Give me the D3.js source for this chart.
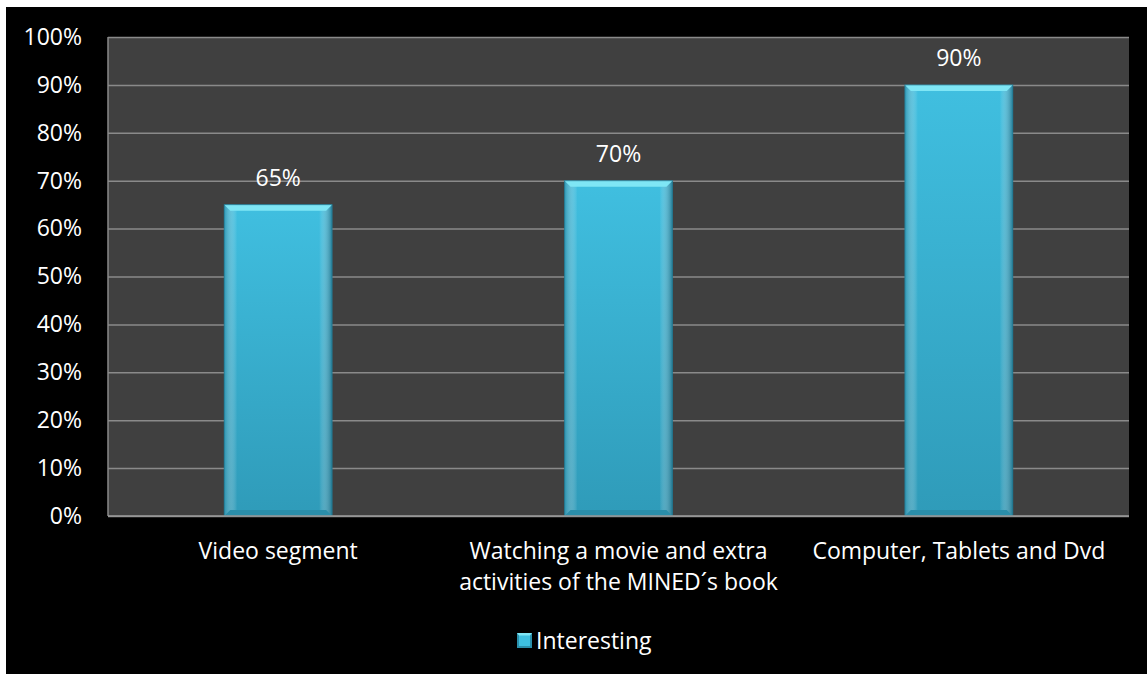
<!DOCTYPE html>
<html>
<head>
<meta charset="utf-8">
<script src="https://cdn.jsdelivr.net/npm/d3@7"></script>
<style>
  html, body { margin: 0; padding: 0; background: #ffffff; }
  svg { display: block; }
  text { font-family: "Open Sans", "Noto Sans", sans-serif; }
</style>
</head>
<body>
<svg id="chart" width="1147" height="674"></svg>
<script>
// Data
const categories = [
  ["Video segment"],
  ["Watching a movie and extra", "activities of the MINED´s book"],
  ["Computer, Tablets and Dvd"]
];
const values = [0.65, 0.70, 0.90];
const seriesName = "Interesting";
const yTicks = [0, 0.1, 0.2, 0.3, 0.4, 0.5, 0.6, 0.7, 0.8, 0.9, 1.0];

const svg = d3.select("#chart");
const W = 1147, H = 674;
const FS = 23;

// Black chart frame
svg.append("rect").attr("x", 6).attr("y", 7).attr("width", W - 6).attr("height", H - 7).attr("fill", "#000");

const plot = { left: 108, top: 37, right: 1129, bottom: 516 };

const x = d3.scaleBand()
  .domain(d3.range(categories.length))
  .range([plot.left, plot.right])
  .paddingInner(0.683)
  .paddingOuter(0.3415);

const y = d3.scaleLinear().domain([0, 1]).range([plot.bottom, plot.top]);

// Plot background
svg.append("rect")
  .attr("x", plot.left).attr("y", plot.top)
  .attr("width", plot.right - plot.left).attr("height", plot.bottom - plot.top)
  .attr("fill", "#404040");

// Gridlines
const grid = svg.append("g")
  .attr("transform", `translate(${plot.left},0)`)
  .call(d3.axisLeft(y).tickValues(yTicks).tickSize(-(plot.right - plot.left)).tickFormat(""));
grid.select(".domain").remove();
grid.selectAll(".tick line").attr("stroke", "#8a8a8a").attr("stroke-width", 1.5);

// Left edge of plot
svg.append("line")
  .attr("x1", plot.left).attr("x2", plot.left)
  .attr("y1", plot.top).attr("y2", plot.bottom)
  .attr("stroke", "#8a8a8a").attr("stroke-width", 1.5);

// Y axis labels
const yAxis = svg.append("g")
  .attr("transform", `translate(${plot.left},0)`)
  .call(d3.axisLeft(y).tickValues(yTicks).tickSize(0).tickPadding(26).tickFormat(d3.format(".0%")));
yAxis.select(".domain").remove();
yAxis.selectAll("text")
  .attr("fill", "#ffffff")
  .attr("font-size", FS)
  .attr("font-family", "'Open Sans', sans-serif");

// Gradients for the bevelled bars
const defs = svg.append("defs");
const face = defs.append("linearGradient").attr("id", "barFace")
  .attr("x1", 0).attr("y1", 0).attr("x2", 0).attr("y2", 1);
face.append("stop").attr("offset", "0%").attr("stop-color", "#40bfe0");
face.append("stop").attr("offset", "100%").attr("stop-color", "#2f9bb9");

const side = defs.append("linearGradient").attr("id", "barSide")
  .attr("x1", 0).attr("y1", 0).attr("x2", 1).attr("y2", 0);
side.append("stop").attr("offset", "0%").attr("stop-color", "#2a8fab");
side.append("stop").attr("offset", "12%").attr("stop-color", "#ffffff").attr("stop-opacity", 0);
side.append("stop").attr("offset", "88%").attr("stop-color", "#ffffff").attr("stop-opacity", 0);
side.append("stop").attr("offset", "100%").attr("stop-color", "#1d6f88");

const bars = svg.append("g").selectAll("g.bar")
  .data(values)
  .join("g").attr("class", "bar");

const bev = 6;
bars.append("rect")
  .attr("x", (d, i) => x(i)).attr("y", d => y(d))
  .attr("width", x.bandwidth()).attr("height", d => y(0) - y(d))
  .attr("fill", "url(#barFace)");
bars.append("rect")
  .attr("x", (d, i) => x(i)).attr("y", d => y(d))
  .attr("width", x.bandwidth()).attr("height", d => y(0) - y(d))
  .attr("fill", "url(#barSide)").attr("opacity", 0.8);
// Top bevel
bars.append("path")
  .attr("d", (d, i) => {
    const x0 = x(i), x1 = x(i) + x.bandwidth(), t = y(d);
    return `M${x0},${t} L${x1},${t} L${x1 - bev},${t + bev} L${x0 + bev},${t + bev} Z`;
  })
  .attr("fill", "#7fe6f5");
// Bottom bevel
bars.append("path")
  .attr("d", (d, i) => {
    const x0 = x(i), x1 = x(i) + x.bandwidth(), b = y(0);
    return `M${x0},${b} L${x1},${b} L${x1 - bev},${b - bev} L${x0 + bev},${b - bev} Z`;
  })
  .attr("fill", "#2a8eaa");
bars.append("rect")
  .attr("x", (d, i) => x(i)).attr("y", d => y(d))
  .attr("width", x.bandwidth()).attr("height", d => y(0) - y(d))
  .attr("fill", "none").attr("stroke", "#1f7690").attr("stroke-width", 1).attr("opacity", 0.7);

// Value labels
svg.append("g").selectAll("text")
  .data(values)
  .join("text")
  .attr("x", (d, i) => x(i) + x.bandwidth() / 2)
  .attr("y", d => y(d) - 18.5)
  .attr("text-anchor", "middle")
  .attr("fill", "#ffffff")
  .attr("font-size", FS)
  .text(d => d3.format(".0%")(d));

// Bottom axis line
svg.append("line")
  .attr("x1", plot.left).attr("x2", plot.right)
  .attr("y1", plot.bottom).attr("y2", plot.bottom)
  .attr("stroke", "#9a9a9a").attr("stroke-width", 1.5);

// Category labels
const catG = svg.append("g").selectAll("text")
  .data(categories)
  .join("text")
  .attr("x", (d, i) => x(i) + x.bandwidth() / 2)
  .attr("y", 559)
  .attr("text-anchor", "middle")
  .attr("fill", "#ffffff")
  .attr("font-size", FS);
catG.selectAll("tspan")
  .data(d => d)
  .join("tspan")
  .attr("x", function () { return d3.select(this.parentNode).attr("x"); })
  .attr("dy", (d, j) => j === 0 ? 0 : 31)
  .text(d => d);

// Legend
const leg = svg.append("g").attr("transform", "translate(517,633)");
leg.append("rect").attr("width", 15).attr("height", 15).attr("fill", "#2a8fab");
leg.append("rect").attr("x", 2).attr("y", 2).attr("width", 11).attr("height", 11).attr("fill", "#3ec0e0");
leg.append("path").attr("d", "M0,0 L15,0 L13,2.5 L2,2.5 Z").attr("fill", "#7fe6f5");
leg.append("text").attr("x", 19).attr("y", 16).attr("fill", "#ffffff").attr("font-size", FS).text(seriesName);
</script>
</body>
</html>
